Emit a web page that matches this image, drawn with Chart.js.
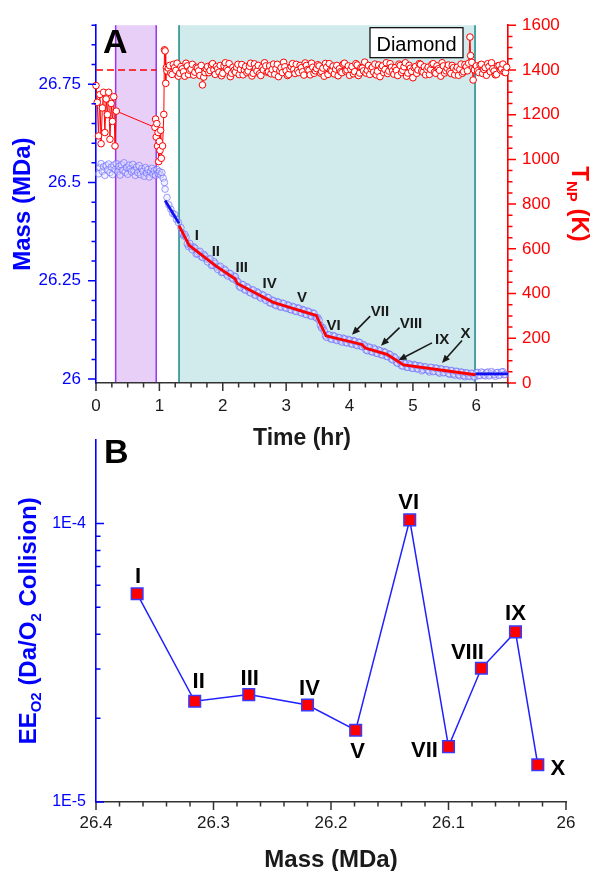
<!DOCTYPE html>
<html>
<head>
<meta charset="utf-8">
<script src="https://cdn.jsdelivr.net/npm/chart.js@4.4.1/dist/chart.umd.min.js"></script>
<style>
  html, body { margin: 0; padding: 0; background: #fff; }
  #wrap { position: relative; width: 597px; height: 871px; }
  canvas { position: absolute; left: 0; }
  #tempMassChart { top: 0; }
  #effChart { top: 420px; }
</style>
</head>
<body>
<div id="wrap">
  <canvas id="tempMassChart" width="597" height="450"></canvas>
  <canvas id="effChart" width="597" height="451"></canvas>
</div>
<script>
// ---- panel A: particle temperature (K) against time (hr)
const tempTime = [
  0.00, 0.02, 0.04, 0.06, 0.08, 0.10, 0.12, 0.14, 0.16, 0.18, 0.20, 0.22, 0.24, 0.26, 0.28, 0.30, 0.32,
  0.93, 0.94, 0.95, 0.96, 0.97, 0.98, 0.99, 1.00, 1.01, 1.02, 1.03, 1.05, 1.07, 1.08, 1.09, 1.10, 1.11,
  1.12, 1.16, 1.20, 1.24, 1.28, 1.32, 1.36, 1.40, 1.44, 1.48,
  1.52, 1.56, 1.60, 1.64, 1.68, 1.72, 1.76, 1.80, 1.84, 1.88,
  1.92, 1.96, 2.00, 2.04, 2.08, 2.12, 2.16, 2.20, 2.24, 2.28,
  2.32, 2.36, 2.40, 2.44, 2.48, 2.52, 2.56, 2.60, 2.64, 2.68,
  2.72, 2.76, 2.80, 2.84, 2.88, 2.92, 2.96, 3.00, 3.04, 3.08,
  3.12, 3.16, 3.20, 3.24, 3.28, 3.32, 3.36, 3.40, 3.44, 3.48,
  3.52, 3.56, 3.60, 3.64, 3.68, 3.72, 3.76, 3.80, 3.84, 3.88,
  3.92, 3.96, 4.00, 4.04, 4.08, 4.12, 4.16, 4.20, 4.24, 4.28,
  4.32, 4.36, 4.40, 4.44, 4.48, 4.52, 4.56, 4.60, 4.64, 4.68,
  4.72, 4.76, 4.80, 4.84, 4.88, 4.92, 4.96, 5.00, 5.04, 5.08,
  5.12, 5.16, 5.20, 5.24, 5.28, 5.32, 5.36, 5.40, 5.44, 5.48,
  5.52, 5.56, 5.60, 5.64, 5.68, 5.72, 5.76, 5.80, 5.84, 5.88,
  5.90, 5.91, 5.93, 5.95, 5.97,
  6.00, 6.04, 6.08, 6.12, 6.16, 6.20, 6.24, 6.28, 6.32, 6.36, 6.40, 6.44, 6.48
];
const tempK = [
  1330, 1255, 1105, 1290, 1070, 1230, 1300, 1120, 1270, 1200, 1300, 1090, 1250, 1170, 1280, 1060, 1216,
  1143, 1180, 1100, 1160, 1060, 1120, 990, 1080, 1040, 1130, 1005, 1060, 1201, 1490, 1485, 1340, 1410,
  1395, 1420, 1380, 1410, 1430, 1385, 1405, 1372, 1418, 1398,
  1425, 1390, 1408, 1375, 1333, 1388, 1415, 1397, 1428, 1380,
  1405, 1420, 1385, 1432, 1398, 1370, 1412, 1390, 1425, 1402,
  1378, 1415, 1395, 1430, 1385, 1408, 1420, 1375, 1400, 1418,
  1392, 1383, 1426, 1405, 1370, 1410, 1434, 1396, 1380, 1415,
  1402, 1425, 1388, 1410, 1377, 1420, 1398, 1430, 1385, 1406,
  1418, 1392, 1372, 1412, 1428, 1395, 1382, 1420, 1405, 1388,
  1430, 1400, 1376, 1415, 1392, 1422, 1386, 1408, 1435, 1398,
  1380, 1412, 1426, 1394, 1370, 1418, 1402, 1384, 1428, 1396,
  1410, 1375, 1420, 1398, 1432, 1386, 1408, 1365, 1415, 1400,
  1425, 1390, 1378, 1412, 1402, 1428, 1385, 1405, 1372, 1418,
  1396, 1422, 1384, 1410, 1400, 1376, 1426, 1392, 1414, 1430,
  1547, 1464, 1434, 1355, 1400,
  1418, 1388, 1425, 1402, 1376, 1415, 1432, 1395, 1380, 1420, 1405, 1390, 1412
];
// readings logged between the ones above
const tempTimeMid = [
  1.14, 1.18, 1.22, 1.26, 1.30, 1.34, 1.38, 1.42, 1.46, 1.50,
  1.54, 1.58, 1.62, 1.66, 1.70, 1.74, 1.78, 1.82, 1.86, 1.90,
  1.94, 1.98, 2.02, 2.06, 2.10, 2.14, 2.18, 2.22, 2.26, 2.30,
  2.34, 2.38, 2.42, 2.46, 2.50, 2.54, 2.58, 2.62, 2.66, 2.70,
  2.74, 2.78, 2.82, 2.86, 2.90, 2.94, 2.98, 3.02, 3.06, 3.10,
  3.14, 3.18, 3.22, 3.26, 3.30, 3.34, 3.38, 3.42, 3.46, 3.50,
  3.54, 3.58, 3.62, 3.66, 3.70, 3.74, 3.78, 3.82, 3.86, 3.90,
  3.94, 3.98, 4.02, 4.06, 4.10, 4.14, 4.18, 4.22, 4.26, 4.30,
  4.34, 4.38, 4.42, 4.46, 4.50, 4.54, 4.58, 4.62, 4.66, 4.70,
  4.74, 4.78, 4.82, 4.86, 4.90, 4.94, 4.98, 5.02, 5.06, 5.10,
  5.14, 5.18, 5.22, 5.26, 5.30, 5.34, 5.38, 5.42, 5.46, 5.50,
  5.54, 5.58, 5.62, 5.66, 5.70, 5.74, 5.78, 5.82, 5.86,
  6.02, 6.06, 6.10, 6.14, 6.18, 6.22, 6.26, 6.30, 6.34, 6.38, 6.42, 6.46
];
const tempKMid = [
  1408, 1386, 1425, 1398, 1372, 1415, 1392, 1430, 1380, 1403,
  1377, 1412, 1396, 1420, 1368, 1405, 1388, 1422, 1400, 1415,
  1390, 1374, 1418, 1406, 1428, 1385, 1398, 1412, 1379, 1424,
  1400, 1388, 1416, 1373, 1427, 1395, 1383, 1410, 1432, 1390,
  1418, 1402, 1380, 1425, 1396, 1388, 1414, 1375, 1405, 1428,
  1384, 1398, 1420, 1392, 1431, 1402, 1378, 1412, 1396, 1423,
  1386, 1408, 1429, 1380, 1398, 1417, 1404, 1374, 1392, 1426,
  1395, 1418, 1402, 1383, 1428, 1375, 1410, 1396, 1386, 1420,
  1404, 1390, 1378, 1422, 1410, 1388, 1432, 1395, 1412, 1381,
  1398, 1426, 1389, 1414, 1372, 1420, 1394, 1410, 1385, 1428,
  1396, 1414, 1402, 1380, 1425, 1390, 1418, 1398, 1432, 1386,
  1408, 1392, 1420, 1378, 1412, 1402, 1385, 1424, 1396,
  1396, 1422, 1384, 1410, 1428, 1392, 1405, 1378, 1418, 1400, 1426, 1388
];

// ---- panel A: particle mass (MDa) against time (hr)
const massTime = [
  0.04, 0.06, 0.08, 0.10, 0.12, 0.14, 0.16, 0.18, 0.20, 0.22, 0.24, 0.26, 0.28, 0.30, 0.32, 0.34, 0.36, 0.38,
  0.40, 0.42, 0.44, 0.46, 0.48, 0.50, 0.52, 0.54, 0.56, 0.58, 0.60, 0.62, 0.64, 0.66, 0.68, 0.70, 0.72, 0.74,
  0.76, 0.78, 0.80, 0.82, 0.84, 0.86, 0.88, 0.90, 0.92, 0.94, 0.96, 0.98, 1.00, 1.02, 1.04, 1.06, 1.08,
  1.09, 1.12, 1.15, 1.18, 1.21, 1.24, 1.27, 1.30,
  1.34, 1.38, 1.42, 1.46, 1.50, 1.54, 1.58, 1.62, 1.66, 1.70,
  1.74, 1.78, 1.82, 1.86, 1.90, 1.94, 1.98, 2.02, 2.06, 2.10,
  2.14, 2.18, 2.22, 2.26, 2.30, 2.34, 2.38, 2.42, 2.46, 2.50,
  2.54, 2.58, 2.62, 2.66, 2.70, 2.74, 2.78, 2.82, 2.86, 2.90,
  2.94, 2.98, 3.02, 3.06, 3.10, 3.14, 3.18, 3.22, 3.26, 3.30,
  3.34, 3.38, 3.42, 3.46, 3.50, 3.54, 3.58, 3.62, 3.66, 3.70,
  3.74, 3.78, 3.82, 3.86, 3.90, 3.94, 3.98, 4.02, 4.06, 4.10,
  4.14, 4.18, 4.22, 4.26, 4.30, 4.34, 4.38, 4.42, 4.46, 4.50,
  4.54, 4.58, 4.62, 4.66, 4.70, 4.74, 4.78, 4.82, 4.86, 4.90,
  4.94, 4.98, 5.02, 5.06, 5.10, 5.14, 5.18, 5.22, 5.26, 5.30,
  5.34, 5.38, 5.42, 5.46, 5.50, 5.54, 5.58, 5.62, 5.66, 5.70,
  5.74, 5.78, 5.82, 5.86, 5.90, 5.94, 5.98, 6.02, 6.06, 6.10,
  6.14, 6.18, 6.22, 6.26, 6.30, 6.34, 6.38, 6.42, 6.46
];
const massMDa = [
  26.522, 26.538, 26.548, 26.528, 26.540, 26.518, 26.543, 26.532, 26.547, 26.525, 26.539, 26.520, 26.544, 26.533, 26.548, 26.527, 26.541, 26.519,
  26.545, 26.531, 26.550, 26.526, 26.538, 26.521, 26.544, 26.535, 26.527, 26.546, 26.530, 26.518, 26.539, 26.525, 26.543, 26.520, 26.535, 26.528,
  26.516, 26.538, 26.524, 26.533, 26.514, 26.527, 26.536, 26.521, 26.530, 26.518, 26.533, 26.523, 26.528, 26.519, 26.525, 26.511, 26.500,
  26.483, 26.462, 26.443, 26.432, 26.421, 26.419, 26.406, 26.398,
  26.385, 26.365, 26.361, 26.337, 26.337, 26.336, 26.318, 26.323, 26.312, 26.317,
  26.305, 26.304, 26.289, 26.299, 26.285, 26.285, 26.271, 26.280, 26.266, 26.269,
  26.258, 26.262, 26.250, 26.236, 26.241, 26.228, 26.235, 26.221, 26.226, 26.214,
  26.222, 26.209, 26.215, 26.204, 26.208, 26.194, 26.201, 26.189, 26.197, 26.184,
  26.193, 26.182, 26.189, 26.177, 26.185, 26.173, 26.181, 26.170, 26.177, 26.165,
  26.173, 26.161, 26.168, 26.158, 26.156, 26.137, 26.131, 26.110, 26.113, 26.103,
  26.111, 26.100, 26.106, 26.097, 26.104, 26.093, 26.101, 26.090, 26.098, 26.087,
  26.094, 26.084, 26.088, 26.074, 26.082, 26.070, 26.079, 26.066, 26.074, 26.062,
  26.070, 26.058, 26.064, 26.051, 26.057, 26.042, 26.048, 26.034, 26.041, 26.030,
  26.039, 26.028, 26.037, 26.026, 26.034, 26.021, 26.031, 26.024, 26.018, 26.029,
  26.020, 26.027, 26.015, 26.025, 26.017, 26.023, 26.012, 26.021, 26.010, 26.019,
  26.008, 26.017, 26.006, 26.015, 26.008, 26.014, 26.005, 26.017, 26.009, 26.016,
  26.008, 26.018, 26.010, 26.015, 26.007, 26.017, 26.011, 26.019, 26.012
];
// mass readings logged between the ones above
const massTimeMid = [
  1.36, 1.40, 1.44, 1.48, 1.52, 1.56, 1.60, 1.64, 1.68, 1.72,
  1.76, 1.80, 1.84, 1.88, 1.92, 1.96, 2.00, 2.04, 2.08, 2.12,
  2.16, 2.20, 2.24, 2.28, 2.32, 2.36, 2.40, 2.44, 2.48, 2.52,
  2.56, 2.60, 2.64, 2.68, 2.72, 2.76, 2.80, 2.84, 2.88, 2.92,
  2.96, 3.00, 3.04, 3.08, 3.12, 3.16, 3.20, 3.24, 3.28, 3.32,
  3.36, 3.40, 3.44, 3.48, 3.52, 3.56, 3.60, 3.64, 3.68, 3.72,
  3.76, 3.80, 3.84, 3.88, 3.92, 3.96, 4.00, 4.04, 4.08, 4.12,
  4.16, 4.20, 4.24, 4.28, 4.32, 4.36, 4.40, 4.44, 4.48, 4.52,
  4.56, 4.60, 4.64, 4.68, 4.72, 4.76, 4.80, 4.84, 4.88, 4.92,
  4.96, 5.00, 5.04, 5.08, 5.12, 5.16, 5.20, 5.24, 5.28, 5.32,
  5.36, 5.40, 5.44, 5.48, 5.52, 5.56, 5.60, 5.64, 5.68, 5.72,
  5.76, 5.80, 5.84, 5.88, 5.92, 5.96, 6.00, 6.04, 6.08, 6.12,
  6.16, 6.20, 6.24, 6.28, 6.32, 6.36, 6.40, 6.44
];
const massMDaMid = [
  26.371, 26.368, 26.344, 26.345, 26.329, 26.333, 26.319, 26.325, 26.309, 26.313,
  26.298, 26.306, 26.290, 26.294, 26.279, 26.287, 26.272, 26.277, 26.262, 26.268,
  26.255, 26.260, 26.247, 26.233, 26.240, 26.226, 26.232, 26.219, 26.227, 26.213,
  26.219, 26.206, 26.213, 26.200, 26.207, 26.193, 26.199, 26.187, 26.195, 26.183,
  26.192, 26.180, 26.187, 26.176, 26.183, 26.172, 26.180, 26.168, 26.175, 26.164,
  26.171, 26.160, 26.167, 26.155, 26.150, 26.130, 26.123, 26.106, 26.112, 26.101,
  26.109, 26.098, 26.105, 26.094, 26.102, 26.092, 26.099, 26.089, 26.096, 26.085,
  26.093, 26.082, 26.084, 26.072, 26.080, 26.069, 26.076, 26.065, 26.072, 26.061,
  26.068, 26.057, 26.062, 26.049, 26.054, 26.040, 26.045, 26.033, 26.039, 26.030,
  26.036, 26.027, 26.035, 26.026, 26.033, 26.024, 26.031, 26.022, 26.030, 26.019,
  26.028, 26.018, 26.026, 26.016, 26.024, 26.014, 26.022, 26.013, 26.020, 26.011,
  26.018, 26.009, 26.016, 26.007, 26.015, 26.006, 26.016, 26.009, 26.018, 26.010,
  26.016, 26.008, 26.019, 26.011, 26.016, 26.009, 26.018, 26.011
];

// piecewise fit over the etching window (red) and the drift before / after it (blue)
const fitTime = [1.31, 1.47, 1.906, 2.194, 2.23, 2.80, 3.06, 3.22, 3.474, 3.63, 4.195, 4.248, 4.59, 4.853, 5.984];
const fitMass = [26.390, 26.340, 26.286, 26.255, 26.243, 26.195, 26.182, 26.174, 26.162, 26.110, 26.088, 26.079, 26.063, 26.036, 26.011];
const driftTime = [1.09, 1.31];
const driftMass = [26.454, 26.396];
const tailTime = [5.984, 6.5];
const tailMass = [26.013, 26.013];

// shaded time windows and the 1400 K set point
const purpleWindow = [0.31, 0.95];
const tealWindow = [1.31, 5.98];
const setPointK = 1400;
const setPointSpan = [0, 0.95];

// step names along the mass trace, and the arrows for the crowded ones
const stepNames = ['I', 'II', 'III', 'IV', 'V', 'VI', 'VII', 'VIII', 'IX', 'X'];
const stepLabelTime = [1.59, 1.89, 2.30, 2.74, 3.25, 3.75, 4.48, 4.97, 5.46, 5.83];
const stepLabelMass = [26.367, 26.326, 26.286, 26.245, 26.208, 26.139, 26.174, 26.143, 26.102, 26.118];
const arrowTailTime = [4.326, 4.789, 5.30, 5.774];
const arrowTailMass = [26.160, 26.131, 26.092, 26.098];
const arrowHeadTime = [4.038, 4.496, 4.773, 5.458];
const arrowHeadMass = [26.113, 26.085, 26.048, 26.041];

// ---- panel B: etching efficiency per O2 collision for each step
const stepMass = [26.365, 26.316, 26.270, 26.220, 26.179, 26.133, 26.100, 26.072, 26.043, 26.024];
const stepEE = [5.59e-5, 2.30e-5, 2.43e-5, 2.23e-5, 1.81e-5, 1.03e-4, 1.58e-5, 3.02e-5, 4.08e-5, 1.36e-5];

const FONT = 'Arial, "Liberation Sans", Helvetica, sans-serif';
const BLUE = '#0000ff';
const RED = '#ff0000';
const INK = '#1a1a1a';

Chart.defaults.font.family = FONT;

const pairs = (xs, ys) => xs.map((x, i) => ({ x: x, y: ys[i] }));

function isMultiple(v, step) {
  const q = v / step;
  return Math.abs(q - Math.round(q)) < 1e-6;
}

// text with subscripts, centred on (cx, cy) and rotated by angle
function drawRichText(ctx, parts, cx, cy, angle, size, color) {
  const sub = Math.round(size * 0.62);
  ctx.save();
  ctx.translate(cx, cy);
  ctx.rotate(angle);
  ctx.fillStyle = color;
  ctx.textBaseline = 'alphabetic';
  ctx.textAlign = 'left';
  let total = 0;
  const widths = parts.map(p => {
    ctx.font = 'bold ' + (p.sub ? sub : size) + 'px ' + FONT;
    const w = ctx.measureText(p.text).width;
    total += w;
    return w;
  });
  let x = -total / 2;
  const base = size * 0.36;
  parts.forEach((p, i) => {
    ctx.font = 'bold ' + (p.sub ? sub : size) + 'px ' + FONT;
    ctx.fillText(p.text, x, p.sub ? base + size * 0.22 : base);
    x += widths[i];
  });
  ctx.restore();
}

function drawArrow(ctx, x1, y1, x2, y2) {
  const a = Math.atan2(y2 - y1, x2 - x1);
  const head = 8;
  ctx.beginPath();
  ctx.moveTo(x1, y1);
  ctx.lineTo(x2 - Math.cos(a) * head * 0.8, y2 - Math.sin(a) * head * 0.8);
  ctx.stroke();
  ctx.beginPath();
  ctx.moveTo(x2, y2);
  ctx.lineTo(x2 - head * Math.cos(a) + 3.5 * Math.sin(a), y2 - head * Math.sin(a) - 3.5 * Math.cos(a));
  ctx.lineTo(x2 - head * Math.cos(a) - 3.5 * Math.sin(a), y2 - head * Math.sin(a) + 3.5 * Math.cos(a));
  ctx.closePath();
  ctx.fill();
}

// long tick at labelled values, short tick in between
const tickMarks = {
  id: 'tickMarks',
  afterDraw(chart, args, opts) {
    const ctx = chart.ctx;
    ctx.save();
    ctx.lineWidth = 1.5;
    Object.keys(opts.axes || {}).forEach(id => {
      const cfg = opts.axes[id];
      const scale = chart.scales[id];
      ctx.strokeStyle = cfg.color;
      ctx.beginPath();
      scale.ticks.forEach(t => {
        const kind = cfg.kind(t.value);
        if (!kind) return;
        const len = kind === 'major' ? 8 : 4.5;
        const p = scale.getPixelForValue(t.value);
        if (scale.isHorizontal()) {
          ctx.moveTo(p, scale.top);
          ctx.lineTo(p, scale.top + len * cfg.dir);
        } else {
          const x0 = scale.position === 'left' ? scale.right : scale.left;
          ctx.moveTo(x0, p);
          ctx.lineTo(x0 + len * cfg.dir, p);
        }
      });
      ctx.stroke();
    });
    ctx.restore();
  }
};

// shaded windows behind panel A
const timeWindows = {
  id: 'timeWindows',
  beforeDraw(chart) {
    const { ctx, chartArea: area, scales: { x } } = chart;
    const bands = [
      { span: purpleWindow, fill: '#e8cff8', edge: '#9a33f0' },
      { span: tealWindow, fill: '#d1eaeb', edge: '#178a8a' }
    ];
    ctx.save();
    bands.forEach(b => {
      const x1 = x.getPixelForValue(b.span[0]);
      const x2 = x.getPixelForValue(b.span[1]);
      ctx.fillStyle = b.fill;
      ctx.fillRect(x1, area.top, x2 - x1, area.bottom - area.top);
      ctx.strokeStyle = b.edge;
      ctx.lineWidth = 1.5;
      ctx.beginPath();
      ctx.moveTo(x1, area.top); ctx.lineTo(x1, area.bottom);
      ctx.moveTo(x2, area.top); ctx.lineTo(x2, area.bottom);
      ctx.stroke();
    });
    ctx.restore();
  }
};

// step names, arrows, panel letter, legend box and axis titles of panel A
const panelADecor = {
  id: 'panelADecor',
  afterDraw(chart) {
    const { ctx, chartArea: area, scales: { x, yM } } = chart;
    ctx.save();
    ctx.fillStyle = INK;
    ctx.textAlign = 'center';
    ctx.textBaseline = 'middle';
    ctx.font = 'bold 15px ' + FONT;
    stepNames.forEach((name, i) => {
      ctx.fillText(name, x.getPixelForValue(stepLabelTime[i]), yM.getPixelForValue(stepLabelMass[i]) + 1);
    });
    ctx.strokeStyle = INK;
    ctx.lineWidth = 1.6;
    arrowTailTime.forEach((t, i) => {
      drawArrow(ctx,
        x.getPixelForValue(t), yM.getPixelForValue(arrowTailMass[i]),
        x.getPixelForValue(arrowHeadTime[i]), yM.getPixelForValue(arrowHeadMass[i]));
    });

    ctx.textAlign = 'left';
    ctx.textBaseline = 'alphabetic';
    ctx.font = 'bold 34px ' + FONT;
    ctx.fillStyle = '#000';
    ctx.fillText('A', area.left + 7, area.top + 28);

    // "Diamond" box in the top right corner
    const bx = area.right - 138, by = area.top + 2.5;
    ctx.fillStyle = '#fff';
    ctx.fillRect(bx, by, 93, 30);
    ctx.strokeStyle = '#000';
    ctx.lineWidth = 1.2;
    ctx.strokeRect(bx, by, 93, 30);
    ctx.fillStyle = '#000';
    ctx.font = '20px ' + FONT;
    ctx.textAlign = 'center';
    ctx.fillText('Diamond', bx + 46.5, by + 23);
    ctx.restore();

    const midY = (area.top + area.bottom) / 2;
    drawRichText(ctx, [{ text: 'Mass (MDa)' }], 21, midY, -Math.PI / 2, 24, BLUE);
    drawRichText(ctx, [{ text: 'T' }, { text: 'NP', sub: true }, { text: ' (K)' }], 581, midY, Math.PI / 2, 24, RED);
    drawRichText(ctx, [{ text: 'Time (hr)' }], (area.left + area.right) / 2, 437, 0, 23, INK);
  }
};

const stepOffsets = [[1, -18], [4, -20], [1, -17], [2, -17], [2, 21], [-1, -18], [-24, 3], [-14, -16], [0, -19], [20, 3]];

// step names next to the markers, panel letter and axis titles of panel B
const panelBDecor = {
  id: 'panelBDecor',
  afterDraw(chart) {
    const { ctx, chartArea: area } = chart;
    const pts = chart.getDatasetMeta(0).data;
    ctx.save();
    ctx.fillStyle = '#000';
    ctx.textAlign = 'center';
    ctx.textBaseline = 'middle';
    ctx.font = 'bold 22px ' + FONT;
    pts.forEach((pt, i) => {
      ctx.fillText(stepNames[i], pt.x + stepOffsets[i][0], pt.y + stepOffsets[i][1] + 1);
    });
    ctx.textAlign = 'left';
    ctx.textBaseline = 'alphabetic';
    ctx.font = 'bold 34px ' + FONT;
    ctx.fillText('B', area.left + 8, 43);
    ctx.restore();

    drawRichText(ctx,
      [{ text: 'EE' }, { text: 'O2', sub: true }, { text: ' (Da/O' }, { text: '2', sub: true }, { text: ' Collision)' }],
      27, (area.top + area.bottom) / 2, -Math.PI / 2, 24, BLUE);
    drawRichText(ctx, [{ text: 'Mass (MDa)' }], (area.left + area.right) / 2, 438, 0, 24, INK);
  }
};

const byTime = (a, b) => a.x - b.x;

new Chart(document.getElementById('tempMassChart'), {
  type: 'line',
  plugins: [timeWindows, tickMarks, panelADecor],
  data: {
    datasets: [
      {
        data: pairs(fitTime, fitMass),
        yAxisID: 'yM',
        borderColor: RED,
        borderWidth: 2.8,
        pointRadius: 0
      },
      {
        data: pairs(driftTime, driftMass),
        yAxisID: 'yM',
        borderColor: '#1010ee',
        borderWidth: 2.8,
        pointRadius: 0
      },
      {
        data: pairs(tailTime, tailMass),
        yAxisID: 'yM',
        borderColor: '#1010ee',
        borderWidth: 2.8,
        pointRadius: 0
      },
      {
        data: pairs(massTime, massMDa).concat(pairs(massTimeMid, massMDaMid)),
        yAxisID: 'yM',
        showLine: false,
        pointRadius: 3.3,
        pointBorderWidth: 1,
        pointBorderColor: 'rgba(95, 95, 255, 0.6)',
        pointBackgroundColor: 'rgba(225, 225, 255, 0.4)',
        clip: false
      },
      {
        data: pairs(setPointSpan, [setPointK, setPointK]),
        yAxisID: 'yT',
        borderColor: RED,
        borderWidth: 1.4,
        borderDash: [7, 4],
        pointRadius: 0
      },
      {
        data: pairs(tempTime, tempK).concat(pairs(tempTimeMid, tempKMid)).sort(byTime),
        yAxisID: 'yT',
        borderColor: RED,
        borderWidth: 1,
        pointRadius: 3.3,
        pointBorderWidth: 1,
        pointBorderColor: RED,
        pointBackgroundColor: '#fff',
        clip: false
      }
    ]
  },
  options: {
    responsive: false,
    animation: false,
    events: [],
    layout: { padding: { top: 17, left: 0, right: 0, bottom: 0 } },
    plugins: {
      legend: { display: false },
      tooltip: { enabled: false },
      tickMarks: {
        axes: {
          x: { color: '#333', dir: 1, kind: v => isMultiple(v, 1) ? 'major' : (isMultiple(v, 0.25) ? 'minor' : null) },
          yM: { color: BLUE, dir: -1, kind: v => isMultiple(v, 0.25) ? 'major' : (isMultiple(v, 0.05) ? 'minor' : null) },
          yT: { color: RED, dir: 1, kind: v => isMultiple(v, 200) ? 'major' : (isMultiple(v, 50) ? 'minor' : null) }
        }
      }
    },
    scales: {
      x: {
        type: 'linear',
        position: 'bottom',
        min: 0,
        max: 6.5,
        grid: { display: false, drawTicks: false },
        border: { color: '#333', width: 1.6 },
        ticks: {
          stepSize: 0.25,
          autoSkip: false,
          maxRotation: 0,
          padding: 13,
          color: INK,
          font: { size: 17 },
          callback: v => isMultiple(v, 1) ? String(Math.round(v)) : ''
        },
        afterFit: s => { s.height = 67; }
      },
      yM: {
        type: 'linear',
        position: 'left',
        min: 25.99,
        max: 26.9,
        grid: { display: false, drawTicks: false },
        border: { color: BLUE, width: 1.6 },
        ticks: {
          autoSkip: false,
          padding: 15,
          color: BLUE,
          font: { size: 17 },
          callback: v => isMultiple(v, 0.25) ? String(+v.toFixed(2)) : ''
        },
        // ticks every 0.05 MDa starting at 26
        afterBuildTicks: s => {
          const ticks = [];
          for (let k = 520; k <= 538; k++) ticks.push({ value: +(k * 0.05).toFixed(2) });
          s.ticks = ticks;
        },
        afterFit: s => { s.width = 96; }
      },
      yT: {
        type: 'linear',
        position: 'right',
        min: 0,
        max: 1600,
        grid: { display: false, drawTicks: false },
        border: { color: RED, width: 1.6 },
        ticks: {
          stepSize: 50,
          autoSkip: false,
          padding: 14,
          color: RED,
          font: { size: 17 },
          callback: v => isMultiple(v, 200) ? String(v) : ''
        },
        afterFit: s => { s.width = 89; }
      }
    }
  }
});

new Chart(document.getElementById('effChart'), {
  type: 'line',
  plugins: [tickMarks, panelBDecor],
  data: {
    datasets: [
      {
        data: pairs(stepMass, stepEE),
        borderColor: '#2020ff',
        borderWidth: 1.5,
        pointStyle: 'rect',
        pointRadius: 8.2,
        pointBorderWidth: 1.5,
        pointBorderColor: '#3a3aff',
        pointBackgroundColor: RED,
        clip: false
      }
    ]
  },
  options: {
    responsive: false,
    animation: false,
    events: [],
    layout: { padding: { top: 16, left: 0, right: 31, bottom: 0 } },
    plugins: {
      legend: { display: false },
      tooltip: { enabled: false },
      tickMarks: {
        axes: {
          x: { color: '#333', dir: 1, kind: v => isMultiple(v, 0.1) ? 'major' : (isMultiple(v, 0.02) ? 'minor' : null) },
          y: {
            color: BLUE, dir: 1,
            kind: v => {
              const e = Math.log10(v);
              if (isMultiple(e, 1)) return 'major';
              const m = v / Math.pow(10, Math.floor(e + 1e-9));
              return isMultiple(m, 1) && v < 1.9e-4 ? 'minor' : null;
            }
          }
        }
      }
    },
    scales: {
      x: {
        type: 'linear',
        position: 'bottom',
        reverse: true,
        min: 26,
        max: 26.4,
        grid: { display: false, drawTicks: false },
        border: { color: '#333', width: 1.6 },
        ticks: {
          stepSize: 0.02,
          autoSkip: false,
          maxRotation: 0,
          padding: 11,
          color: INK,
          font: { size: 17 },
          callback: v => isMultiple(v, 0.1) ? String(+v.toFixed(1)) : ''
        },
        afterFit: s => { s.height = 69; }
      },
      y: {
        type: 'logarithmic',
        position: 'left',
        min: 1e-5,
        max: 2e-4,
        grid: { display: false, drawTicks: false },
        border: { color: BLUE, width: 1.6 },
        ticks: {
          autoSkip: false,
          padding: 10,
          color: BLUE,
          font: { size: 16 },
          callback: v => {
            const e = Math.log10(v);
            return isMultiple(e, 1) ? '1E' + Math.round(e) : '';
          }
        },
        afterFit: s => { s.width = 96; }
      }
    }
  }
});
</script>
</body>
</html>
